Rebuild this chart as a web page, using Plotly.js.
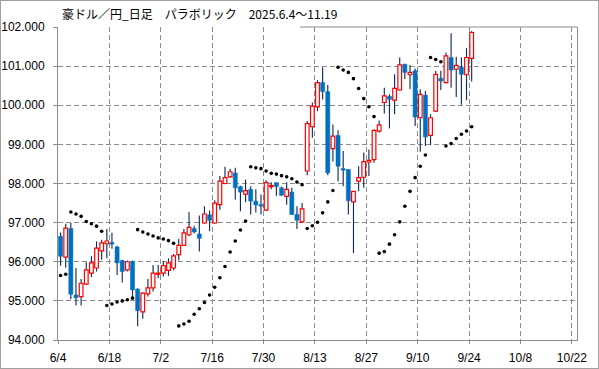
<!DOCTYPE html>
<html>
<head>
<meta charset="utf-8">
<script src="https://cdn.plot.ly/plotly-3.0.1.min.js"></script>
<style>
html,body{margin:0;padding:0;background:#fff;}
#chart{width:597px;height:367px;border:1px solid #a0a0a0;}
</style>
</head>
<body>
<div id="chart"></div>
<script>
// Trading days from 2025-06-04 (business days)
const startDate = new Date(2025, 5, 4);
const nDays = 81;
const dates = [];
(function(){
  let d = new Date(startDate);
  while (dates.length < nDays) {
    const wd = d.getDay();
    if (wd !== 0 && wd !== 6) dates.push((d.getMonth()+1) + '/' + d.getDate());
    d.setDate(d.getDate()+1);
  }
})();

const open  = [96.65,96.12,96.85,95.15,95.11,95.43,95.71,95.84,96.28,96.46,
               96.49,96.38,96.03,95.79,96.01,95.30,94.72,95.18,95.33,95.68,
               95.71,95.78,95.84,96.18,96.42,96.69,96.85,96.71,96.99,97.20,
               96.99,97.46,98.00,98.17,98.27,97.92,97.73,97.85,97.55,97.46,
               97.32,97.92,98.02,97.89,97.67,97.78,97.21,97.02,98.32,99.45,
               99.96,100.58,100.35,98.89,99.23,98.38,98.36,97.53,98.06,98.16,
               98.55,98.61,99.34,100.07,100.23,100.13,100.39,101.05,100.78,100.88,
               99.68,100.26,99.23,99.85,100.69,100.58,101.22,100.92,100.97,100.78,
               101.20];
const high  = [96.75,96.97,96.99,95.84,95.56,95.99,96.14,96.52,96.56,96.84,
               96.74,96.41,96.05,96.03,96.03,95.32,95.22,95.56,95.92,95.92,
               96.01,96.09,96.20,96.58,96.84,97.27,96.92,97.18,97.42,97.31,
               97.57,98.19,98.43,98.38,98.40,97.94,98.10,97.93,97.85,97.72,
               98.08,98.03,98.03,97.92,98.03,97.89,97.42,97.50,99.60,100.07,
               100.64,100.97,100.52,99.51,99.36,98.83,98.36,97.80,98.44,98.79,
               98.87,99.38,99.61,100.45,100.28,100.79,101.22,101.05,101.03,100.94,
               100.41,100.37,99.77,100.88,100.88,101.35,101.84,101.24,101.22,101.46,
               101.90];
const low   = [95.90,95.85,95.04,94.88,94.88,95.41,95.61,95.75,96.05,96.09,
               96.33,95.66,95.47,95.75,95.07,94.35,94.54,95.11,95.24,95.58,
               95.62,95.64,95.78,96.03,96.40,96.65,96.72,96.26,96.97,96.78,
               96.97,97.33,97.98,98.15,97.59,97.29,97.52,97.21,97.26,97.21,
               97.30,97.85,97.69,97.68,97.46,97.20,96.84,97.00,98.21,99.17,
               99.85,100.15,98.21,98.56,98.06,97.93,97.21,96.22,97.80,97.89,
               98.19,98.53,99.30,99.79,99.41,99.77,100.37,100.67,100.41,99.47,
               98.81,98.96,98.98,99.83,100.39,100.56,100.45,100.21,100.01,100.13,
               100.61];
const close = [96.14,96.86,95.17,95.08,95.45,95.79,95.97,96.35,96.48,96.53,
               96.45,95.97,95.75,96.00,95.28,94.75,95.20,95.33,95.71,95.71,
               95.90,95.97,96.15,96.42,96.74,96.88,96.76,96.60,97.22,97.06,
               97.50,98.06,98.15,98.30,97.89,97.78,97.82,97.55,97.45,97.42,
               98.02,97.95,97.92,97.70,97.85,97.21,97.06,97.35,99.53,99.98,
               100.58,100.35,98.27,99.21,98.44,98.34,97.56,97.80,98.15,98.56,
               98.59,99.36,99.50,100.24,100.15,100.43,101.03,100.84,100.84,99.70,
               100.28,99.19,99.68,100.79,100.62,101.26,100.90,101.02,100.79,101.22,
               101.86];
const sar   = [95.65,95.68,97.27,97.22,97.16,97.03,96.97,96.91,96.78,94.88,
               94.92,94.97,95.00,95.03,95.07,96.82,96.76,96.71,96.66,96.61,
               96.58,96.54,96.47,94.36,94.41,94.48,94.66,94.80,94.96,95.15,
               95.35,95.59,95.88,96.25,96.53,96.81,97.04,98.43,98.40,98.38,
               98.32,98.26,98.24,98.20,98.17,98.12,98.04,97.97,96.85,96.92,
               97.01,97.25,97.53,97.82,100.97,100.90,100.84,100.68,100.43,100.17,
               99.96,99.71,96.22,96.26,96.45,96.69,97.02,97.42,97.80,98.15,
               98.44,98.73,101.22,101.17,101.11,98.96,99.02,99.15,99.26,99.34,
               99.45];

const tickLabels = ['6/4','6/18','7/2','7/16','7/30','8/13','8/27','9/10','9/24','10/8','10/22'];
const tickStep = 10; // business days between tick labels

// slot centre for each trading day
const xs = dates.map((d, i) => i + 0.5);
const tickvals = tickLabels.map((t, k) => k * tickStep);

const upBase = [], upH = [], dnBase = [], dnH = [];
for (let i = 0; i < dates.length; i++) {
  if (close[i] >= open[i]) {
    upBase.push(open[i]); upH.push(close[i] - open[i]);
    dnBase.push(null); dnH.push(null);
  } else {
    dnBase.push(close[i]); dnH.push(open[i] - close[i]);
    upBase.push(null); upH.push(null);
  }
}

const traces = [
  { type: 'bar', x: xs, base: low, y: high.map((h, i) => h - low[i]), width: 0.22,
    marker: { color: '#10295e', line: { width: 0 } }, hoverinfo: 'skip' },
  { type: 'bar', x: xs, base: dnBase, y: dnH, width: 0.8,
    marker: { color: '#0070c0', line: { color: '#0070c0', width: 0.5 } }, hoverinfo: 'skip' },
  { type: 'bar', x: xs, base: upBase, y: upH, width: 0.72,
    marker: { color: '#ffffff', line: { color: '#ff0000', width: 1.2 } }, hoverinfo: 'skip' },
  { type: 'scatter', mode: 'markers', x: xs, y: sar,
    marker: { color: '#000000', size: 3.6 }, hoverinfo: 'skip' }
];

const topLineStart = (300 - 58) / 519; // fraction of plot width where title box ends

const layout = {
  width: 597, height: 367,
  margin: { l: 57, r: 21, t: 26, b: 28, pad: 0 },
  paper_bgcolor: '#ffffff', plot_bgcolor: '#ffffff',
  showlegend: false, barmode: 'overlay', hovermode: false,
  title: {
    text: '豪ドル／円_日足　パラボリック　2025.6.4～11.19',
    font: { family: 'Noto Sans CJK JP', size: 12, color: '#000' },
    xref: 'container', x: 61/597, xanchor: 'left',
    yref: 'container', y: 1 - 14/367, yanchor: 'middle'
  },
  shapes: [
    { type: 'line', xref: 'paper', yref: 'paper', x0: 0, x1: topLineStart, y0: 1, y1: 1,
      line: { color: '#ffffff', width: 2 }, layer: 'between' },
    { type: 'line', xref: 'paper', yref: 'paper', x0: topLineStart, x1: 1, y0: 1, y1: 1,
      line: { color: '#8c8c8c', width: 1 }, layer: 'between' }
  ],
  xaxis: {
    range: [0, 101], tickmode: 'array', tickvals: tickvals, ticktext: tickLabels,
    showgrid: true, gridcolor: '#8c8c8c', gridwidth: 1, griddash: '5px,3px',
    showline: true, linecolor: '#8c8c8c', linewidth: 1, mirror: false,
    ticks: 'outside', ticklen: 3, tickcolor: '#8c8c8c', zeroline: false,
    ticklabelstandoff: 4,
    tickfont: { family: 'Liberation Sans', size: 12, color: '#000' }
  },
  yaxis: {
    range: [94, 102], dtick: 1, tick0: 94, tickformat: '.3f',
    showgrid: true, gridcolor: '#8c8c8c', gridwidth: 1, griddash: '5px,3px',
    showline: true, linecolor: '#8c8c8c', linewidth: 1, mirror: true,
    ticks: 'outside', ticklen: 4, tickcolor: '#8c8c8c', zeroline: false,
    ticklabelstandoff: 6,
    tickfont: { family: 'Liberation Sans', size: 12, color: '#000' }
  }
};

Plotly.newPlot('chart', traces, layout, { staticPlot: true, displayModeBar: false });
</script>
</body>
</html>
